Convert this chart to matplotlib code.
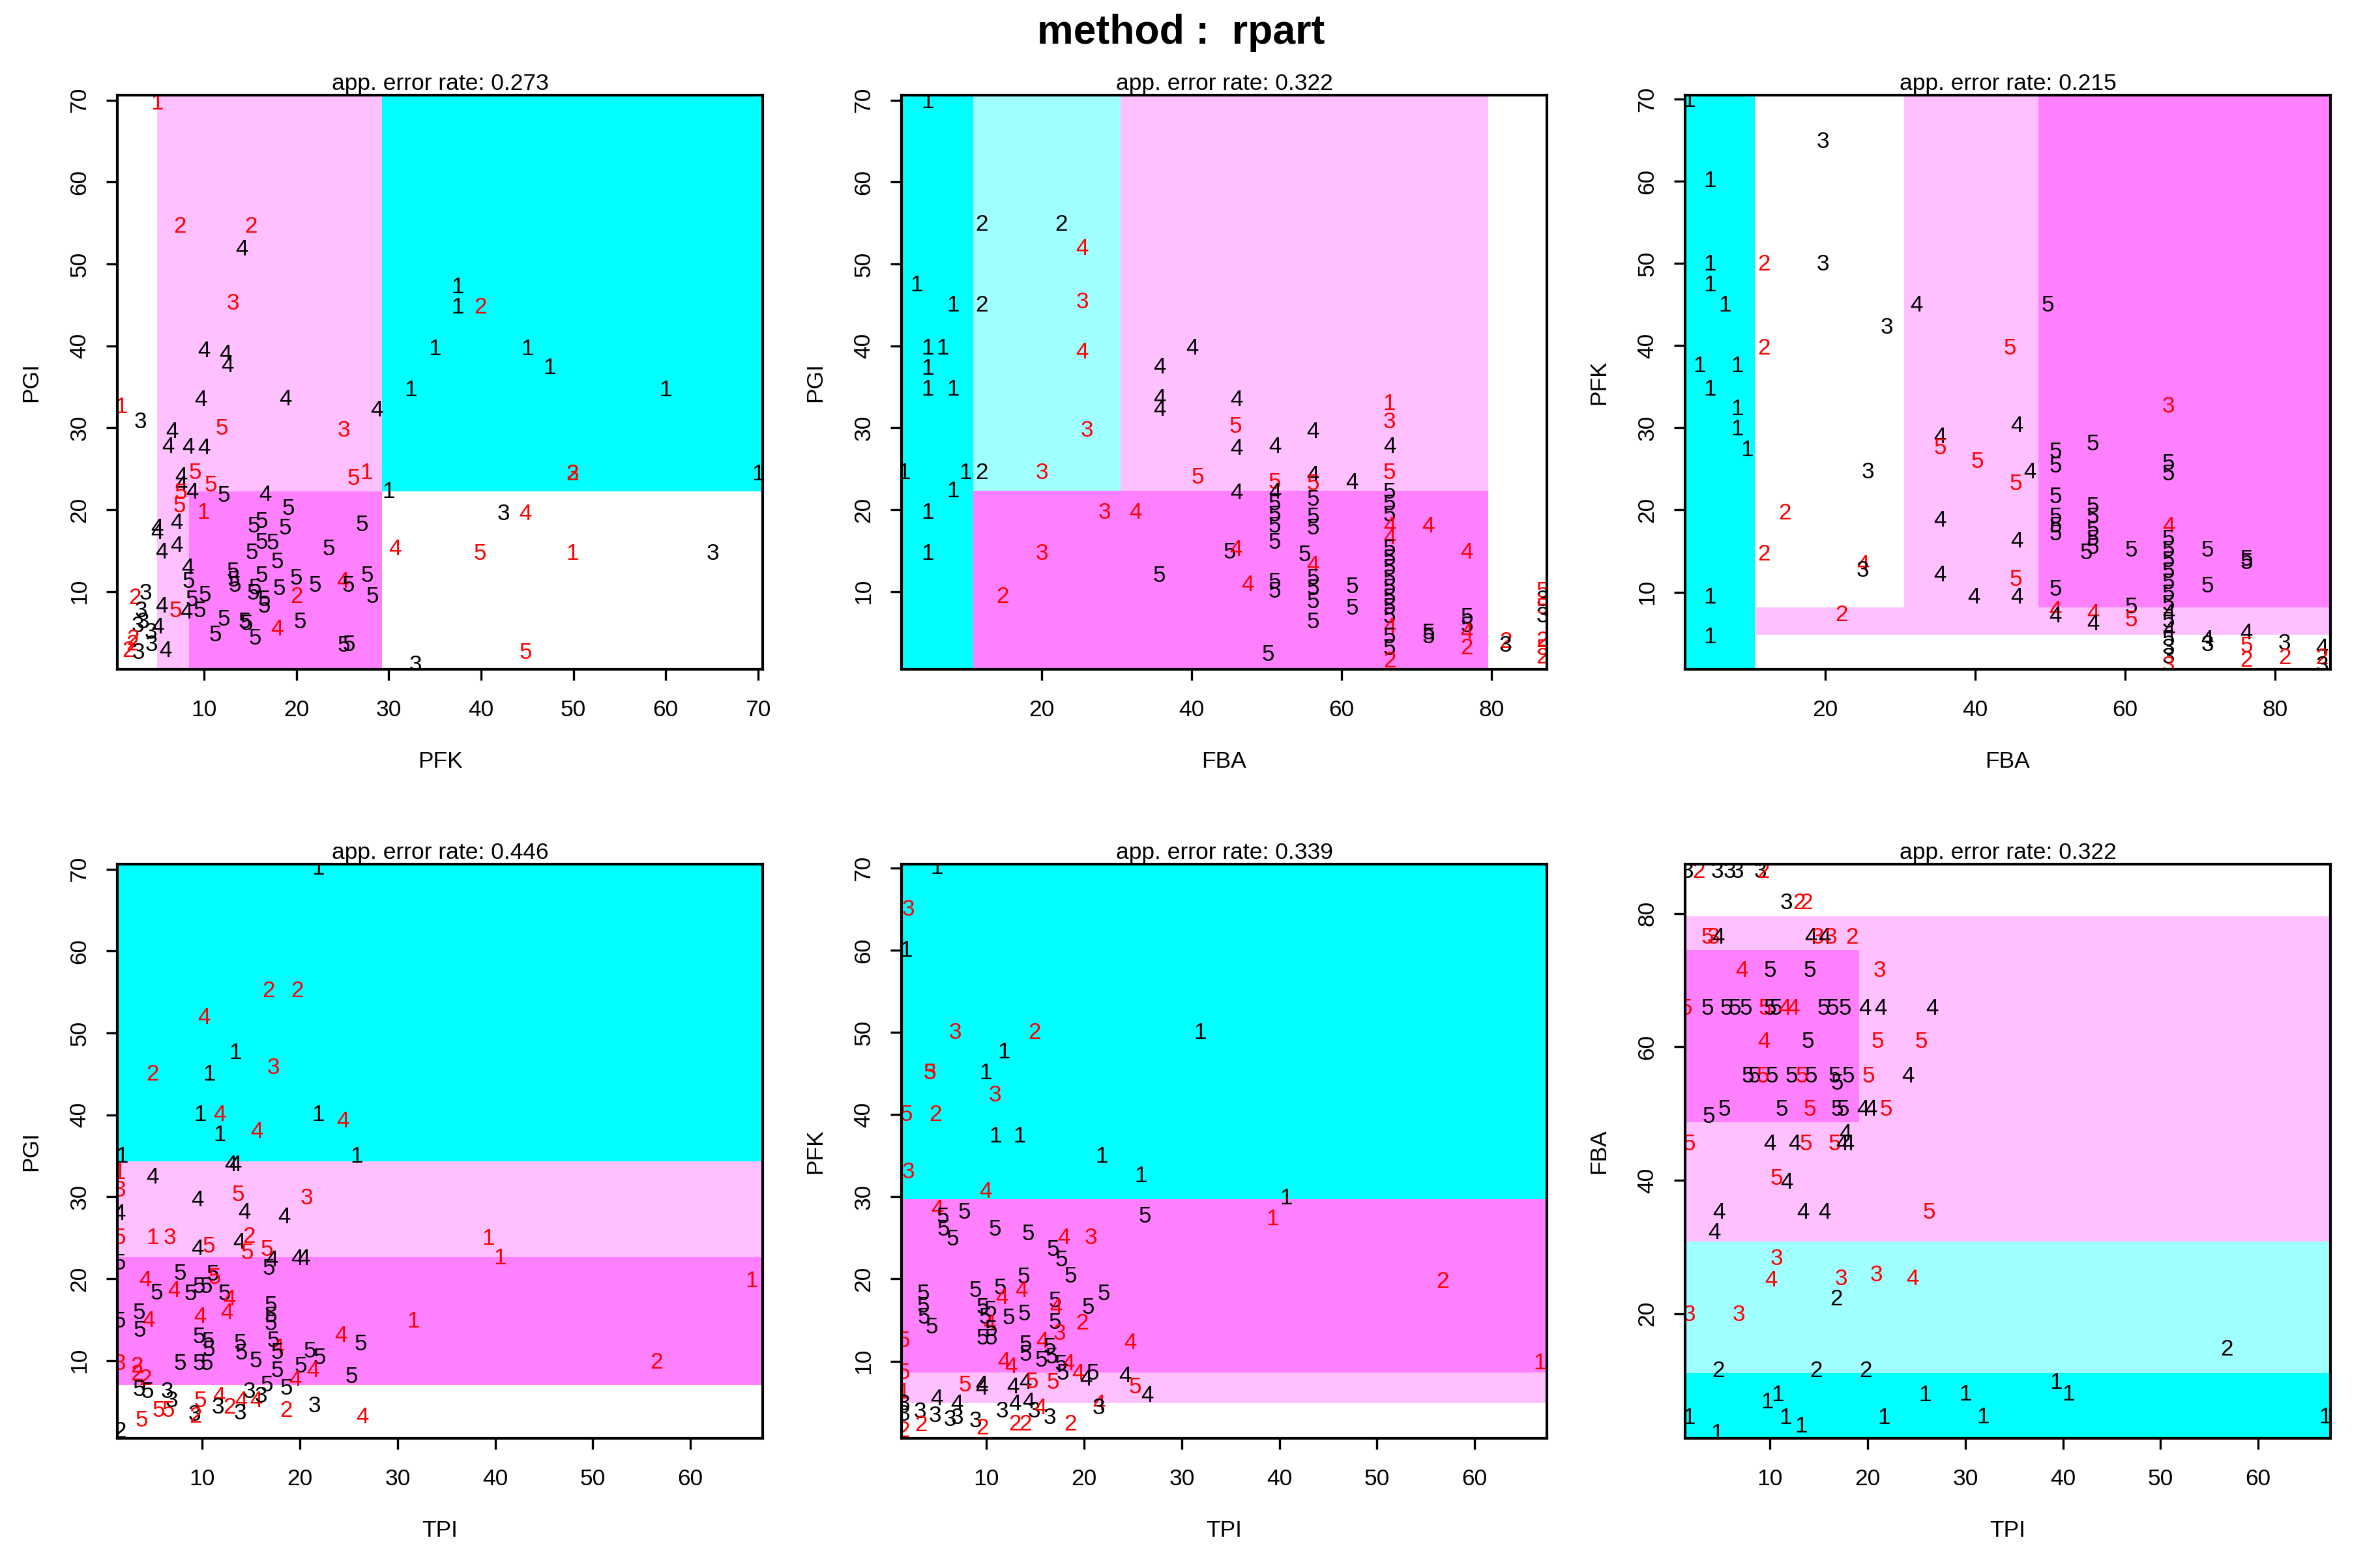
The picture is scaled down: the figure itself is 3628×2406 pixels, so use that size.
import matplotlib
matplotlib.use('Agg')
import matplotlib.pyplot as plt
from matplotlib.patches import Rectangle

plt.rcParams['font.family'] = ['Liberation Sans', 'DejaVu Sans']

# ---------------- data ----------------
main_title = "method :  rpart"
error_rates = ["0.273", "0.322", "0.215", "0.446", "0.339", "0.322"]
x_names = ["PFK", "FBA", "FBA", "TPI", "TPI", "TPI"]
y_names = ["PGI", "PGI", "PFK", "PGI", "PFK", "FBA"]
var_limits = {"PFK": (0.6, 70.5), "PGI": (0.5, 70.6), "FBA": (1.3, 87.4), "TPI": (1.3, 67.4)}
var_ticks = {"PFK": [10, 20, 30, 40, 50, 60, 70], "PGI": [10, 20, 30, 40, 50, 60, 70],
             "FBA": [20, 40, 60, 80], "TPI": [10, 20, 30, 40, 50, 60]}
class_colors = {1: "#00FFFF", 2: "#A0FFFF", 3: "#FFFFFF", 4: "#FFC0FF", 5: "#FF80FF"}

# partition regions: (x_from, x_to, y_from, y_to, predicted class)
regions1 = [(-100, 4.9, -100, 100, 3), (4.9, 8.4, -100, 100, 4), (8.4, 29.3, -100, 22.2, 5),
            (8.4, 29.3, 22.2, 100, 4), (29.3, 200, -100, 22.2, 3), (29.3, 200, 22.2, 100, 1)]
regions2 = [(-100, 10.9, -100, 100, 1), (10.9, 30.5, 22.3, 100, 2), (30.5, 79.6, 22.3, 100, 4),
            (10.9, 79.6, -100, 22.3, 5), (79.6, 200, -100, 100, 3)]
regions3 = [(-100, 10.6, -100, 100, 1), (10.6, 30.5, 8.15, 100, 3), (30.5, 48.4, 8.15, 100, 4),
            (48.4, 200, 8.15, 100, 5), (10.6, 200, 4.8, 8.15, 4), (10.6, 200, -100, 4.8, 3)]
regions4 = [(-100, 200, 34.3, 100, 1), (-100, 200, 22.6, 34.3, 4), (-100, 200, 7.0, 22.6, 5),
            (-100, 200, -100, 7.0, 3)]
regions5 = [(-100, 200, 29.7, 100, 1), (-100, 200, 8.6, 29.7, 5), (-100, 200, 4.9, 8.6, 4),
            (-100, 200, -100, 4.9, 3)]
regions6 = [(-100, 200, 79.6, 200, 3), (-100, 200, 30.8, 79.6, 4), (-100, 19.1, 48.7, 74.5, 5),
            (-100, 200, 11.05, 30.8, 2), (-100, 200, -100, 11.05, 1)]

# observations: (x, y, class label, 'r' misclassified / 'k' correct)
points1 = [
    (4.9, 69.6, '1', 'r'), (7.4, 54.6, '2', 'r'), (15.1, 54.6, '2', 'r'), (14.1, 51.8, '4', 'k'),
    (13.1, 45.2, '3', 'r'), (37.5, 47.2, '1', 'k'), (37.5, 44.7, '1', 'k'), (39.9, 44.7, '2', 'r'),
    (35.0, 39.6, '1', 'k'), (45.0, 39.6, '1', 'k'), (47.4, 37.3, '1', 'k'), (32.4, 34.6, '1', 'k'),
    (60.0, 34.6, '1', 'k'), (10.0, 39.4, '4', 'k'), (12.3, 39.0, '4', 'k'), (12.5, 37.5, '4', 'k'),
    (9.6, 33.4, '4', 'k'), (18.8, 33.5, '4', 'k'), (1.0, 32.5, '1', 'r'), (3.1, 30.7, '3', 'k'),
    (28.7, 32.1, '4', 'k'), (25.1, 29.7, '3', 'r'), (11.9, 29.9, '5', 'r'), (70.0, 24.3, '1', 'k'),
    (49.9, 24.3, '2', 'r'), (49.9, 24.3, '3', 'r'), (29.95, 22.2, '1', 'k'), (42.4, 19.5, '3', 'k'),
    (44.8, 19.5, '4', 'r'), (49.9, 14.6, '1', 'r'), (39.9, 14.6, '5', 'r'), (30.7, 15.2, '4', 'r'),
    (65.1, 14.6, '3', 'k'), (44.8, 2.5, '5', 'r'), (32.9, 1.0, '3', 'k'),
    (6.5, 29.5, '4', 'k'), (6.1, 27.7, '4', 'k'), (8.3, 27.6, '4', 'k'), (10.0, 27.5, '4', 'k'),
    (9.0, 24.5, '5', 'r'), (7.5, 24.0, '4', 'k'), (7.5, 23.0, '4', 'k'), (10.7, 23.0, '5', 'r'),
    (8.7, 22.1, '4', 'k'), (7.5, 22.0, '5', 'r'), (7.3, 20.4, '5', 'r'), (12.1, 21.7, '5', 'k'),
    (16.6, 21.8, '4', 'k'), (26.2, 23.8, '5', 'r'), (27.6, 24.5, '1', 'r'), (9.9, 19.6, '1', 'r'),
    (19.1, 20.1, '5', 'k'), (16.2, 18.5, '5', 'k'), (15.4, 18.0, '5', 'k'), (18.8, 17.7, '5', 'k'),
    (27.1, 18.1, '5', 'k'), (4.9, 17.7, '4', 'k'), (4.9, 17.2, '4', 'k'), (7.0, 18.4, '4', 'k'),
    (5.4, 14.8, '4', 'k'), (7.0, 15.6, '4', 'k'), (16.2, 16.0, '5', 'k'), (17.4, 15.9, '5', 'k'),
    (15.2, 14.7, '5', 'k'), (23.5, 15.2, '5', 'k'), (17.9, 13.6, '5', 'k'), (8.2, 12.9, '4', 'k'),
    (8.3, 11.2, '5', 'k'), (13.1, 12.4, '5', 'k'), (13.2, 11.4, '5', 'k'), (13.3, 10.7, '5', 'k'),
    (16.2, 11.9, '5', 'k'), (15.5, 10.4, '5', 'k'), (15.3, 9.8, '5', 'k'), (16.5, 9.0, '5', 'k'),
    (16.5, 8.2, '5', 'k'), (18.1, 10.3, '5', 'k'), (20.0, 11.6, '5', 'k'), (20.0, 9.4, '2', 'r'),
    (22.0, 10.7, '5', 'k'), (25.0, 11.2, '4', 'r'), (25.6, 10.7, '5', 'k'), (27.7, 11.9, '5', 'k'),
    (28.2, 9.4, '5', 'k'), (2.5, 9.2, '2', 'r'), (3.7, 9.8, '3', 'k'), (5.4, 8.2, '4', 'k'),
    (6.9, 7.6, '5', 'r'), (8.1, 7.5, '4', 'k'), (9.5, 7.6, '5', 'k'), (10.1, 9.5, '5', 'k'),
    (8.7, 9.0, '5', 'k'), (12.1, 6.6, '5', 'k'), (11.2, 4.7, '5', 'k'), (14.4, 6.3, '5', 'k'),
    (14.6, 6.0, '5', 'k'), (15.5, 4.3, '5', 'k'), (17.9, 5.4, '4', 'r'), (20.4, 6.3, '5', 'k'),
    (25.1, 3.4, '5', 'k'), (25.7, 3.5, '5', 'k'), (5.8, 2.8, '4', 'k'), (3.2, 7.6, '3', 'k'),
    (3.4, 6.3, '3', 'k'), (2.8, 5.8, '3', 'k'), (5.0, 5.6, '4', 'k'), (4.2, 5.0, '3', 'k'),
    (2.3, 4.2, '2', 'r'), (4.3, 3.5, '3', 'k'), (1.8, 2.8, '2', 'r'), (2.9, 2.5, '3', 'k'),
    (2.2, 3.6, '2', 'r'),
]
points2 = [
    (4.75, 69.8, '1', 'k'), (12.0, 54.8, '2', 'k'), (22.6, 54.8, '2', 'k'), (25.4, 51.9, '4', 'r'),
    (3.3, 47.4, '1', 'k'), (8.2, 44.9, '1', 'k'), (12.0, 44.9, '2', 'k'), (25.4, 45.3, '3', 'r'),
    (4.75, 39.7, '1', 'k'), (6.8, 39.7, '1', 'k'), (4.75, 37.2, '1', 'k'), (25.4, 39.2, '4', 'r'),
    (40.1, 39.7, '4', 'k'), (35.7, 37.4, '4', 'k'), (35.7, 33.6, '4', 'k'), (35.7, 32.2, '4', 'k'),
    (4.75, 34.7, '1', 'k'), (8.2, 34.7, '1', 'k'), (26.0, 29.7, '3', 'r'), (1.7, 24.5, '1', 'k'),
    (9.8, 24.5, '1', 'k'), (12.0, 24.5, '2', 'k'), (20.0, 24.5, '3', 'r'), (40.8, 23.9, '5', 'r'),
    (8.2, 22.3, '1', 'k'), (4.75, 19.6, '1', 'k'), (28.4, 19.6, '3', 'r'), (32.5, 19.6, '4', 'r'),
    (4.75, 14.6, '1', 'k'), (20.0, 14.6, '3', 'r'), (35.7, 11.9, '5', 'k'), (14.8, 9.4, '2', 'r'),
    (46.0, 33.4, '4', 'k'), (66.4, 32.9, '1', 'r'), (66.4, 30.7, '3', 'r'), (45.9, 30.1, '5', 'r'),
    (56.2, 29.5, '4', 'k'), (46.0, 27.4, '4', 'k'), (51.1, 27.7, '4', 'k'), (66.4, 27.7, '4', 'k'),
    (51.1, 23.3, '5', 'r'), (56.2, 24.2, '4', 'k'), (56.2, 23.1, '5', 'r'), (61.4, 23.3, '4', 'k'),
    (66.4, 24.5, '5', 'r'), (66.4, 22.1, '5', 'k'), (46.0, 22.0, '4', 'k'), (51.1, 22.1, '4', 'k'),
    (51.1, 20.7, '5', 'k'), (51.1, 19.3, '5', 'k'), (51.1, 18.0, '5', 'k'), (51.1, 16.0, '5', 'k'),
    (56.2, 21.2, '5', 'k'), (56.2, 19.1, '5', 'k'), (56.2, 17.7, '5', 'k'), (66.4, 20.7, '5', 'k'),
    (66.4, 19.3, '5', 'k'), (66.4, 18.0, '4', 'r'), (66.4, 16.5, '4', 'r'), (66.4, 15.2, '5', 'k'),
    (66.4, 14.0, '5', 'k'), (66.4, 12.8, '5', 'k'), (66.4, 11.5, '5', 'k'), (66.4, 10.4, '5', 'k'),
    (66.4, 9.2, '5', 'k'), (66.4, 8.0, '5', 'k'), (66.4, 6.9, '5', 'k'), (66.4, 5.6, '4', 'r'),
    (66.4, 4.4, '5', 'k'), (66.4, 3.0, '5', 'k'), (66.4, 1.5, '2', 'r'), (71.6, 18.0, '4', 'r'),
    (76.7, 14.8, '4', 'r'), (45.1, 14.8, '5', 'k'), (45.9, 15.1, '4', 'r'), (55.1, 14.5, '5', 'k'),
    (47.5, 10.8, '4', 'r'), (51.1, 11.1, '5', 'k'), (51.1, 10.0, '5', 'k'), (56.2, 13.2, '4', 'r'),
    (56.2, 11.6, '5', 'k'), (56.2, 10.3, '5', 'k'), (56.2, 8.7, '5', 'k'), (56.2, 6.3, '5', 'k'),
    (61.4, 10.6, '5', 'k'), (61.4, 7.9, '5', 'k'), (71.6, 4.4, '5', 'k'), (71.6, 4.9, '5', 'k'),
    (76.7, 6.8, '5', 'k'), (76.7, 5.8, '5', 'k'), (76.7, 5.0, '4', 'r'), (76.7, 3.1, '2', 'r'),
    (50.2, 2.3, '5', 'k'), (81.9, 3.9, '2', 'r'), (81.9, 3.4, '3', 'k'),
    (86.8, 10.0, '5', 'r'), (86.8, 9.0, '3', 'k'), (86.8, 8.0, '5', 'r'), (86.8, 7.0, '3', 'k'),
    (86.8, 4.0, '2', 'r'), (86.8, 3.0, '5', 'r'), (86.8, 2.0, '2', 'r'),
]
points3 = [
    (1.8, 69.8, '1', 'k'), (19.7, 64.8, '3', 'k'), (4.6, 60.1, '1', 'k'), (4.6, 49.9, '1', 'k'),
    (11.8, 49.9, '2', 'r'), (19.7, 49.9, '3', 'k'), (4.6, 47.4, '1', 'k'), (6.6, 44.9, '1', 'k'),
    (32.2, 44.9, '4', 'k'), (49.7, 44.9, '5', 'k'), (28.2, 42.2, '3', 'k'), (11.8, 39.7, '2', 'r'),
    (44.6, 39.7, '5', 'r'), (3.2, 37.5, '1', 'k'), (8.3, 37.5, '1', 'k'), (4.6, 34.7, '1', 'k'),
    (8.3, 32.3, '1', 'k'), (8.3, 29.8, '1', 'k'), (9.6, 27.3, '1', 'k'), (45.6, 30.2, '4', 'k'),
    (35.3, 28.9, '4', 'k'), (35.3, 27.5, '5', 'r'), (40.3, 25.9, '5', 'r'), (47.3, 24.6, '4', 'k'),
    (45.4, 23.2, '5', 'r'), (25.7, 24.6, '3', 'k'), (50.7, 27.1, '5', 'k'), (50.7, 25.3, '5', 'k'),
    (50.7, 21.6, '5', 'k'), (50.7, 19.1, '5', 'k'), (50.7, 18.0, '5', 'k'), (50.7, 17.1, '5', 'k'),
    (14.6, 19.6, '2', 'r'), (35.3, 18.7, '4', 'k'), (45.6, 16.2, '4', 'k'), (11.8, 14.6, '2', 'r'),
    (25.0, 13.3, '4', 'r'), (25.0, 12.6, '3', 'k'), (35.3, 12.1, '4', 'k'), (45.4, 11.5, '5', 'r'),
    (45.6, 9.4, '4', 'k'), (39.8, 9.4, '4', 'k'), (50.7, 10.3, '5', 'k'), (50.7, 7.8, '4', 'r'),
    (50.7, 7.1, '4', 'k'), (22.2, 7.2, '2', 'r'), (4.6, 9.4, '1', 'k'), (4.6, 4.5, '1', 'k'),
    (65.8, 32.6, '3', 'r'), (55.7, 28.0, '5', 'k'), (65.8, 25.6, '5', 'k'), (65.8, 24.4, '5', 'k'),
    (55.7, 20.4, '5', 'k'), (55.7, 19.1, '5', 'k'), (55.7, 17.5, '5', 'k'), (55.7, 16.4, '5', 'k'),
    (55.7, 15.4, '5', 'k'), (54.8, 14.8, '5', 'k'), (60.8, 15.1, '5', 'k'), (65.8, 18.0, '4', 'r'),
    (65.8, 16.4, '5', 'k'), (65.8, 15.1, '5', 'k'), (65.8, 13.8, '5', 'k'), (65.8, 12.5, '5', 'k'),
    (65.8, 11.1, '5', 'k'), (65.8, 9.8, '5', 'k'), (65.8, 8.5, '5', 'k'), (71.0, 15.1, '5', 'k'),
    (76.2, 14.0, '5', 'k'), (76.2, 13.6, '5', 'k'), (71.0, 10.7, '5', 'k'), (55.7, 7.4, '4', 'r'),
    (55.7, 6.1, '4', 'k'), (60.8, 8.2, '5', 'k'), (60.8, 6.6, '5', 'r'), (65.8, 7.4, '4', 'k'),
    (65.8, 6.4, '5', 'k'), (65.8, 5.3, '4', 'k'), (65.8, 4.2, '5', 'k'), (65.8, 3.2, '3', 'k'),
    (65.8, 2.1, '3', 'k'), (65.8, 1.0, '3', 'r'), (71.0, 4.2, '4', 'k'), (71.0, 3.6, '3', 'k'),
    (76.2, 5.0, '4', 'k'), (76.2, 3.4, '5', 'r'), (76.2, 1.7, '2', 'r'), (81.3, 3.7, '3', 'k'),
    (81.3, 2.0, '2', 'r'), (86.3, 3.2, '4', 'k'), (86.3, 2.0, '2', 'r'), (86.3, 1.0, '3', 'k'),
]
points4 = [
    (21.9, 70.1, '1', 'k'), (16.8, 55.1, '2', 'r'), (19.7, 55.1, '2', 'r'), (10.2, 51.9, '4', 'r'),
    (13.4, 47.6, '1', 'k'), (17.3, 45.7, '3', 'r'), (4.9, 44.9, '2', 'r'), (10.7, 44.9, '1', 'k'),
    (9.8, 40.0, '1', 'k'), (11.8, 40.0, '4', 'r'), (21.9, 40.0, '1', 'k'), (24.4, 39.2, '4', 'r'),
    (11.8, 37.5, '1', 'k'), (15.6, 37.9, '4', 'r'), (1.8, 34.9, '1', 'k'), (25.8, 34.9, '1', 'k'),
    (12.9, 33.9, '4', 'k'), (13.4, 33.9, '4', 'k'), (1.5, 32.9, '1', 'r'), (1.5, 30.8, '3', 'r'),
    (1.5, 27.9, '4', 'k'), (1.5, 25.0, '5', 'r'), (1.5, 21.9, '5', 'k'), (1.5, 14.8, '5', 'k'),
    (1.5, 9.6, '3', 'r'), (4.9, 32.4, '4', 'k'), (9.5, 29.6, '4', 'k'), (13.7, 30.2, '5', 'r'),
    (20.7, 29.8, '3', 'r'), (14.3, 28.1, '4', 'k'), (18.4, 27.5, '4', 'k'), (4.9, 25.0, '1', 'r'),
    (6.7, 25.0, '3', 'r'), (9.5, 23.6, '4', 'k'), (10.7, 23.9, '5', 'r'), (13.8, 24.4, '4', 'k'),
    (14.8, 25.1, '2', 'r'), (14.6, 23.1, '5', 'r'), (16.6, 23.5, '5', 'r'), (17.1, 22.3, '4', 'k'),
    (19.7, 22.4, '4', 'k'), (20.4, 22.4, '4', 'k'), (16.8, 21.2, '5', 'k'), (7.7, 20.6, '5', 'k'),
    (11.1, 20.5, '5', 'k'), (11.3, 20.1, '5', 'r'), (4.2, 19.8, '4', 'r'), (5.3, 18.2, '5', 'k'),
    (7.1, 18.5, '4', 'r'), (8.8, 18.1, '5', 'k'), (9.7, 19.0, '5', 'k'), (10.4, 19.0, '5', 'k'),
    (12.3, 18.1, '5', 'k'), (12.8, 17.5, '4', 'r'), (12.5, 15.8, '4', 'r'), (17.0, 16.7, '5', 'k'),
    (17.0, 15.4, '5', 'k'), (17.0, 14.5, '5', 'k'), (3.5, 15.8, '5', 'k'), (4.5, 14.9, '4', 'r'),
    (3.6, 13.7, '5', 'k'), (9.8, 15.3, '4', 'r'), (31.6, 14.8, '1', 'r'), (9.7, 12.9, '5', 'k'),
    (10.6, 12.3, '5', 'k'), (10.7, 11.3, '5', 'k'), (13.9, 12.1, '5', 'k'), (14.0, 10.9, '5', 'k'),
    (15.5, 9.9, '5', 'k'), (17.3, 12.4, '5', 'k'), (17.7, 11.5, '4', 'r'), (17.7, 11.0, '5', 'k'),
    (21.0, 11.1, '5', 'k'), (22.0, 10.3, '5', 'k'), (24.2, 13.0, '4', 'r'), (26.2, 12.0, '5', 'k'),
    (7.7, 9.6, '5', 'k'), (9.7, 9.6, '5', 'k'), (10.5, 9.6, '5', 'k'), (3.3, 9.3, '2', 'r'),
    (3.3, 8.3, '2', 'r'), (4.2, 7.8, '2', 'r'), (17.7, 8.7, '5', 'k'), (20.1, 9.3, '5', 'k'),
    (21.3, 8.7, '4', 'r'), (19.5, 7.6, '4', 'r'), (25.3, 8.0, '5', 'k'), (3.5, 6.4, '5', 'k'),
    (4.4, 6.2, '5', 'k'), (6.4, 6.2, '3', 'k'), (6.9, 5.1, '3', 'k'), (3.8, 2.7, '5', 'r'),
    (5.5, 3.9, '5', 'r'), (6.5, 3.9, '5', 'r'), (9.2, 3.4, '3', 'k'), (9.3, 3.2, '2', 'r'),
    (9.8, 5.1, '5', 'r'), (11.7, 5.6, '4', 'r'), (11.6, 4.3, '3', 'k'), (12.8, 4.3, '2', 'r'),
    (14.0, 5.1, '4', 'r'), (13.9, 3.6, '3', 'k'), (14.8, 6.2, '3', 'k'), (15.5, 5.1, '4', 'r'),
    (16.0, 5.6, '3', 'k'), (16.6, 7.0, '5', 'k'), (18.6, 6.6, '5', 'k'), (18.6, 3.9, '2', 'r'),
    (21.5, 4.4, '3', 'k'), (26.4, 3.1, '4', 'r'), (1.6, 1.3, '2', 'k'), (56.5, 9.8, '2', 'r'),
    (66.3, 19.7, '1', 'r'), (40.5, 22.5, '1', 'r'), (39.3, 24.9, '1', 'r'),
]
points5 = [
    (4.9, 70.1, '1', 'k'), (2.0, 65.0, '3', 'r'), (1.8, 60.0, '1', 'k'), (6.8, 50.0, '3', 'r'),
    (14.9, 50.0, '2', 'r'), (31.9, 50.0, '1', 'k'), (11.8, 47.6, '1', 'k'), (4.2, 45.1, '5', 'r'),
    (4.2, 45.1, '3', 'r'), (9.9, 45.1, '1', 'k'), (10.9, 42.4, '3', 'r'), (1.8, 40.0, '5', 'r'),
    (4.8, 40.0, '2', 'r'), (10.9, 37.4, '1', 'k'), (13.4, 37.4, '1', 'k'), (21.8, 34.9, '1', 'k'),
    (25.8, 32.5, '1', 'k'), (2.0, 33.0, '3', 'r'), (9.9, 30.6, '4', 'r'), (40.7, 29.8, '1', 'k'),
    (39.3, 27.3, '1', 'r'), (56.7, 19.7, '2', 'r'), (66.7, 9.8, '1', 'r'), (26.2, 27.6, '5', 'k'),
    (24.7, 12.2, '4', 'r'), (5.0, 28.5, '4', 'r'), (7.7, 28.1, '5', 'k'), (5.5, 27.5, '5', 'k'),
    (5.6, 26.0, '5', 'k'), (6.5, 24.8, '5', 'k'), (10.9, 26.0, '5', 'k'), (14.3, 25.5, '5', 'k'),
    (17.9, 25.0, '4', 'r'), (20.7, 25.0, '3', 'r'), (16.8, 23.6, '5', 'k'), (17.7, 22.3, '5', 'k'),
    (18.6, 20.3, '5', 'k'), (13.8, 20.2, '5', 'k'), (13.6, 18.6, '4', 'r'), (22.0, 18.2, '5', 'k'),
    (3.5, 18.2, '5', 'k'), (3.5, 16.7, '5', 'k'), (3.6, 15.3, '5', 'k'), (4.4, 14.1, '5', 'k'),
    (8.9, 18.6, '5', 'k'), (11.4, 18.9, '5', 'k'), (11.6, 17.7, '4', 'r'), (9.6, 16.5, '5', 'k'),
    (10.4, 16.2, '5', 'k'), (9.9, 15.3, '5', 'k'), (10.3, 14.5, '4', 'r'), (10.5, 13.8, '5', 'k'),
    (9.6, 12.8, '5', 'k'), (10.5, 12.8, '5', 'k'), (12.3, 15.2, '5', 'k'), (13.9, 15.7, '5', 'k'),
    (17.0, 17.3, '5', 'k'), (17.1, 16.5, '4', 'r'), (17.0, 14.7, '5', 'k'), (17.5, 13.3, '3', 'r'),
    (19.8, 14.6, '2', 'r'), (20.4, 16.5, '5', 'k'), (15.7, 12.4, '4', 'r'), (14.0, 12.0, '5', 'k'),
    (14.0, 10.8, '5', 'k'), (16.5, 11.7, '5', 'k'), (16.7, 10.5, '5', 'k'), (15.6, 10.1, '5', 'k'),
    (11.8, 9.9, '4', 'r'), (12.5, 9.3, '4', 'r'), (17.6, 9.6, '5', 'k'), (18.4, 9.7, '4', 'r'),
    (17.8, 8.5, '5', 'k'), (19.4, 8.5, '4', 'r'), (20.9, 8.5, '5', 'k'), (20.2, 7.8, '4', 'k'),
    (24.2, 8.2, '4', 'k'), (25.2, 6.8, '5', 'r'), (26.5, 5.8, '4', 'k'), (7.8, 7.1, '5', 'r'),
    (9.5, 7.1, '4', 'k'), (9.5, 6.7, '4', 'k'), (12.7, 6.8, '4', 'k'), (14.0, 7.4, '4', 'k'),
    (14.7, 7.5, '5', 'r'), (16.8, 7.4, '5', 'r'), (4.9, 5.4, '4', 'k'), (7.0, 4.8, '4', 'k'),
    (3.2, 3.8, '3', 'k'), (4.7, 3.3, '3', 'k'), (6.3, 2.9, '3', 'k'), (7.0, 3.1, '3', 'k'),
    (3.3, 2.2, '2', 'r'), (8.9, 2.7, '3', 'k'), (9.6, 1.8, '2', 'r'), (11.6, 3.9, '3', 'k'),
    (12.9, 4.8, '4', 'k'), (14.3, 5.0, '4', 'k'), (12.9, 2.3, '2', 'r'), (14.0, 2.3, '2', 'r'),
    (14.9, 3.9, '3', 'k'), (15.5, 4.3, '4', 'r'), (16.5, 3.1, '3', 'k'), (18.6, 2.3, '2', 'r'),
    (21.5, 4.8, '4', 'r'), (21.5, 4.3, '3', 'k'), (1.5, 12.5, '5', 'r'), (1.5, 8.6, '5', 'r'),
    (1.5, 6.2, '1', 'r'), (1.5, 4.8, '3', 'k'), (1.5, 3.5, '3', 'k'), (1.5, 1.5, '2', 'r'),
]
points6 = [
    (1.5, 86.3, '3', 'k'), (2.7, 86.3, '2', 'r'), (4.6, 86.3, '3', 'k'), (5.9, 86.3, '3', 'k'),
    (6.7, 86.3, '3', 'k'), (9.0, 86.3, '3', 'k'), (9.3, 86.3, '2', 'r'), (11.7, 81.6, '3', 'k'),
    (13.0, 81.6, '2', 'r'), (13.7, 81.6, '2', 'r'), (3.6, 76.4, '5', 'r'), (4.2, 76.4, '3', 'r'),
    (4.7, 76.4, '4', 'k'), (14.2, 76.4, '4', 'k'), (14.9, 76.4, '3', 'r'), (15.6, 76.4, '4', 'k'),
    (16.2, 76.4, '3', 'r'), (18.4, 76.4, '2', 'r'), (7.1, 71.4, '4', 'r'), (10.0, 71.4, '5', 'k'),
    (14.1, 71.4, '5', 'k'), (21.2, 71.4, '3', 'r'), (1.4, 65.8, '5', 'r'), (3.6, 65.8, '5', 'k'),
    (5.5, 65.8, '5', 'k'), (6.4, 65.8, '5', 'k'), (7.5, 65.8, '5', 'k'), (9.5, 65.8, '5', 'r'),
    (10.0, 65.8, '5', 'k'), (10.6, 65.8, '5', 'k'), (11.5, 65.8, '4', 'r'), (12.4, 65.8, '4', 'r'),
    (15.5, 65.8, '5', 'k'), (16.4, 65.8, '5', 'k'), (17.7, 65.8, '5', 'k'), (19.7, 65.8, '4', 'k'),
    (21.3, 65.8, '4', 'k'), (26.6, 65.8, '4', 'k'), (9.4, 60.8, '4', 'r'), (13.9, 60.8, '5', 'k'),
    (21.0, 60.8, '5', 'r'), (25.5, 60.8, '5', 'r'), (7.7, 55.6, '5', 'k'), (8.4, 55.6, '5', 'k'),
    (9.3, 55.6, '5', 'r'), (10.2, 55.6, '5', 'k'), (12.2, 55.6, '5', 'k'), (13.3, 55.6, '5', 'r'),
    (14.2, 55.6, '5', 'k'), (16.6, 55.6, '5', 'k'), (16.9, 54.5, '5', 'k'), (18.0, 55.6, '5', 'k'),
    (20.1, 55.6, '5', 'r'), (24.1, 55.6, '4', 'k'), (3.7, 49.5, '5', 'k'), (5.3, 50.6, '5', 'k'),
    (11.2, 50.6, '5', 'k'), (14.1, 50.6, '5', 'r'), (16.9, 50.6, '5', 'k'), (17.5, 50.6, '5', 'k'),
    (19.5, 50.6, '4', 'k'), (20.3, 50.6, '4', 'k'), (21.9, 50.6, '5', 'r'), (1.7, 45.4, '5', 'r'),
    (10.0, 45.4, '4', 'k'), (12.5, 45.4, '4', 'k'), (13.7, 45.4, '5', 'r'), (16.6, 45.4, '5', 'r'),
    (17.4, 45.4, '4', 'k'), (18.0, 45.4, '4', 'k'), (17.7, 47.0, '4', 'k'), (10.7, 40.2, '5', 'r'),
    (11.7, 39.7, '4', 'k'), (4.8, 35.2, '4', 'k'), (13.4, 35.2, '4', 'k'), (15.6, 35.2, '4', 'k'),
    (26.3, 35.2, '5', 'r'), (4.3, 32.1, '4', 'k'), (10.7, 28.2, '3', 'r'), (10.1, 25.0, '4', 'r'),
    (17.3, 25.2, '3', 'r'), (20.9, 25.8, '3', 'r'), (24.6, 25.2, '4', 'r'), (16.8, 22.2, '2', 'k'),
    (1.7, 19.8, '3', 'r'), (6.8, 19.8, '3', 'r'), (4.7, 11.4, '2', 'k'), (14.7, 11.4, '2', 'k'),
    (19.8, 11.4, '2', 'k'), (10.8, 7.8, '1', 'k'), (9.7, 6.7, '1', 'k'), (25.9, 7.8, '1', 'k'),
    (1.7, 4.4, '1', 'k'), (11.6, 4.4, '1', 'k'), (13.2, 3.1, '1', 'k'), (21.7, 4.4, '1', 'k'),
    (4.6, 2.0, '1', 'k'), (56.8, 14.6, '2', 'k'), (39.3, 9.7, '1', 'k'), (40.6, 7.9, '1', 'k'),
    (66.9, 4.5, '1', 'k'), (31.8, 4.5, '1', 'k'), (30.0, 7.9, '1', 'k'),
]

all_regions = [regions1, regions2, regions3, regions4, regions5, regions6]
all_points = [points1, points2, points3, points4, points5, points6]

# ---------------- layout ----------------
W, H, DPI = 3628, 2406, 300
fig = plt.figure(figsize=(W / DPI, H / DPI), dpi=DPI)
col_left = [180, 1383, 2585]
col_w = 990
row_top = [146, 1326]
row_h = 881

fig.text(0.4995, 0.979, main_title, ha='center', va='center', fontsize=15, fontweight='bold')

for i in range(6):
    r, c = divmod(i, 3)
    ax = fig.add_axes([col_left[c] / W, 1 - (row_top[r] + row_h) / H, col_w / W, row_h / H])
    xn, yn = x_names[i], y_names[i]
    ax.set_xlim(*var_limits[xn])
    ax.set_ylim(*var_limits[yn])
    for (x0, x1, y0, y1, k) in all_regions[i]:
        ax.add_patch(Rectangle((x0, y0), x1 - x0, y1 - y0, facecolor=class_colors[k],
                               edgecolor='none', zorder=0))
    for (x, y, lab, col) in all_points[i]:
        ax.text(x, y, lab, ha='center', va='center', fontsize=8.4,
                color='#FF0000' if col == 'r' else 'black', zorder=3, clip_on=True)
    ax.set_xticks(var_ticks[xn])
    ax.set_yticks(var_ticks[yn])
    ax.set_yticklabels([str(t) for t in var_ticks[yn]], rotation=90, va='center')
    ax.tick_params(direction='out', length=4, width=0.8, labelsize=8.5, top=False, right=False)
    ax.tick_params(axis='x', pad=7)
    ax.tick_params(axis='y', pad=6)
    ax.set_xlabel(xn, fontsize=8.5, labelpad=11)
    ax.set_ylabel(yn, fontsize=8.5, labelpad=10)
    for s in ax.spines.values():
        s.set_linewidth(1.0)
        s.set_zorder(5)
    ax.set_title("app. error rate: " + error_rates[i], fontsize=8.5, pad=2)

fig.savefig("out.png", dpi=DPI)
